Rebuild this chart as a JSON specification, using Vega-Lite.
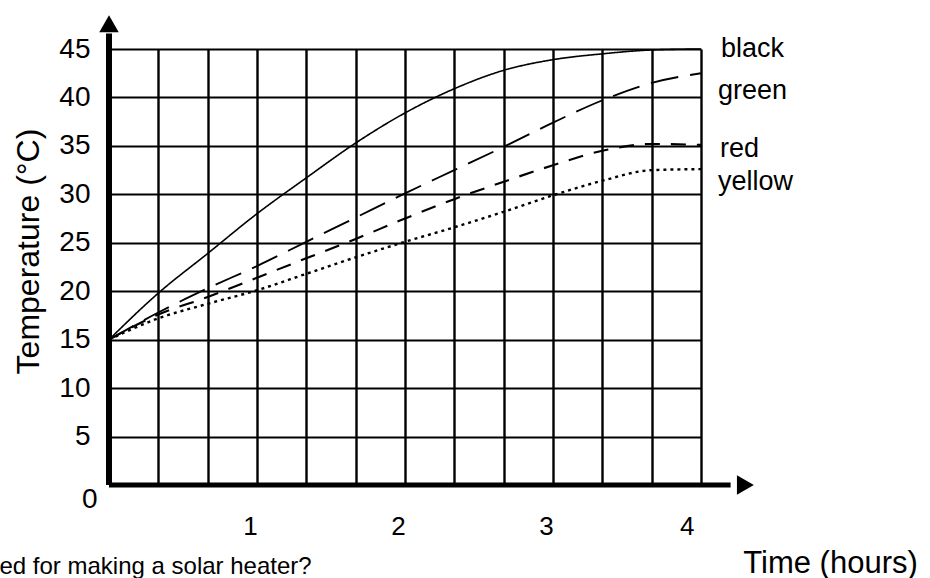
{
  "$schema": "https://vega.github.io/schema/vega-lite/v6.json",
  "width": 592,
  "height": 436,
  "autosize": {"type": "none"},
  "padding": {"left": 109, "top": 49, "right": 229, "bottom": 93},
  "background": "white",
  "config": {
    "view": {"stroke": null},
    "font": "Liberation Sans",
    "text": {"font": "Liberation Sans"}
  },
  "datasets": {
    "curves": [
      {"t": 0, "temp": 15, "series": "black"},
      {"t": 0.333, "temp": 19.8, "series": "black"},
      {"t": 0.667, "temp": 23.9, "series": "black"},
      {"t": 1, "temp": 28, "series": "black"},
      {"t": 1.333, "temp": 31.7, "series": "black"},
      {"t": 1.667, "temp": 35.3, "series": "black"},
      {"t": 2, "temp": 38.4, "series": "black"},
      {"t": 2.333, "temp": 40.9, "series": "black"},
      {"t": 2.667, "temp": 42.8, "series": "black"},
      {"t": 3, "temp": 43.9, "series": "black"},
      {"t": 3.333, "temp": 44.5, "series": "black"},
      {"t": 3.667, "temp": 44.9, "series": "black"},
      {"t": 4, "temp": 45, "series": "black"},
      {"t": 0, "temp": 15, "series": "green"},
      {"t": 0.333, "temp": 17.8, "series": "green"},
      {"t": 0.667, "temp": 20.3, "series": "green"},
      {"t": 1, "temp": 22.6, "series": "green"},
      {"t": 1.333, "temp": 25.1, "series": "green"},
      {"t": 1.667, "temp": 27.6, "series": "green"},
      {"t": 2, "temp": 30.1, "series": "green"},
      {"t": 2.333, "temp": 32.5, "series": "green"},
      {"t": 2.667, "temp": 34.9, "series": "green"},
      {"t": 3, "temp": 37.4, "series": "green"},
      {"t": 3.333, "temp": 39.7, "series": "green"},
      {"t": 3.667, "temp": 41.5, "series": "green"},
      {"t": 4, "temp": 42.5, "series": "green"},
      {"t": 0, "temp": 15, "series": "red"},
      {"t": 0.333, "temp": 17.6, "series": "red"},
      {"t": 0.667, "temp": 19.4, "series": "red"},
      {"t": 1, "temp": 21.4, "series": "red"},
      {"t": 1.333, "temp": 23.4, "series": "red"},
      {"t": 1.667, "temp": 25.4, "series": "red"},
      {"t": 2, "temp": 27.5, "series": "red"},
      {"t": 2.333, "temp": 29.5, "series": "red"},
      {"t": 2.667, "temp": 31.3, "series": "red"},
      {"t": 3, "temp": 33.0, "series": "red"},
      {"t": 3.333, "temp": 34.5, "series": "red"},
      {"t": 3.667, "temp": 35.2, "series": "red"},
      {"t": 4, "temp": 35.1, "series": "red"},
      {"t": 0, "temp": 15, "series": "yellow"},
      {"t": 0.333, "temp": 17.2, "series": "yellow"},
      {"t": 0.667, "temp": 18.7, "series": "yellow"},
      {"t": 1, "temp": 20.1, "series": "yellow"},
      {"t": 1.333, "temp": 21.8, "series": "yellow"},
      {"t": 1.667, "temp": 23.5, "series": "yellow"},
      {"t": 2, "temp": 25.1, "series": "yellow"},
      {"t": 2.333, "temp": 26.6, "series": "yellow"},
      {"t": 2.667, "temp": 28.2, "series": "yellow"},
      {"t": 3, "temp": 29.9, "series": "yellow"},
      {"t": 3.333, "temp": 31.4, "series": "yellow"},
      {"t": 3.667, "temp": 32.5, "series": "yellow"},
      {"t": 4, "temp": 32.6, "series": "yellow"}
    ]
  },
  "data": {"name": "curves"},
  "layer": [
    {
      "mark": {"type": "line", "interpolate": "monotone", "color": "black", "strokeCap": "butt"},
      "encoding": {
        "x": {
          "field": "t", "type": "quantitative",
          "scale": {"domain": [0, 4], "nice": false, "zero": false},
          "axis": {
            "values": [0.3333, 0.6667, 1, 1.3333, 1.6667, 2, 2.3333, 2.6667, 3, 3.3333, 3.6667, 4],
            "labelExpr": "abs(datum.value - round(datum.value)) < 0.01 ? toString(round(datum.value)) : ''",
            "grid": true, "gridColor": "black", "gridWidth": 2.4, "gridOpacity": 1,
            "domain": false, "ticks": false, "tickSize": 0,
            "labelFontSize": 26, "labelColor": "black", "labelPadding": 28, "labelOffset": -7,
            "labelFont": "Liberation Sans",
            "title": "Time (hours)", "titleFontSize": 31, "titleFontWeight": "normal", "titleColor": "black",
            "titleFont": "Liberation Sans",
            "titleX": 721, "titleY": 87, "titleAlign": "center", "titleBaseline": "alphabetic"
          }
        },
        "y": {
          "field": "temp", "type": "quantitative",
          "scale": {"domain": [0, 45], "nice": false},
          "axis": {
            "values": [0, 5, 10, 15, 20, 25, 30, 35, 40, 45],
            "grid": true, "gridColor": "black", "gridWidth": 1.8, "gridOpacity": 1,
            "domain": false, "ticks": false, "tickSize": 0,
            "labelFontSize": 28, "labelColor": "black",
            "labelFont": "Liberation Sans",
            "labelPadding": {"condition": {"test": "datum.value == 0", "value": 12}, "value": 19},
            "labelBaseline": {"condition": {"test": "datum.value == 0", "value": "top"}, "value": "middle"},
            "title": "Temperature (°C)", "titleFontSize": 32, "titleFontWeight": "normal", "titleColor": "black",
            "titleFont": "Liberation Sans",
            "titleX": -71, "titleY": 202, "titleAngle": -90, "titleAlign": "center", "titleBaseline": "alphabetic"
          }
        },
        "detail": {"field": "series", "type": "nominal"},
        "strokeDash": {
          "field": "series", "type": "nominal",
          "scale": {"domain": ["black", "green", "red", "yellow"], "range": [[1, 0], [28, 12], [15, 11], [3, 4]]},
          "legend": null
        },
        "strokeWidth": {
          "field": "series", "type": "nominal",
          "scale": {"domain": ["black", "green", "red", "yellow"], "range": [1.6, 2.4, 2.2, 2.8]},
          "legend": null
        }
      }
    },
    {
      "data": {"values": [{}]},
      "mark": {"type": "rule", "color": "black", "strokeWidth": 6, "strokeCap": "butt"},
      "encoding": {
        "x": {"datum": 0, "type": "quantitative"},
        "y": {"datum": 0, "type": "quantitative"},
        "y2": {"datum": 46.6}
      }
    },
    {
      "data": {"values": [{}]},
      "mark": {"type": "rule", "color": "black", "strokeWidth": 5, "strokeCap": "butt"},
      "encoding": {
        "x": {"datum": 0, "type": "quantitative"},
        "x2": {"datum": 4.2},
        "y": {"datum": 0, "type": "quantitative"}
      }
    },
    {
      "data": {"values": [{}]},
      "mark": {"type": "point", "shape": "triangle-up", "filled": true, "color": "black", "size": 380, "opacity": 1},
      "encoding": {
        "x": {"datum": 0, "type": "quantitative"},
        "y": {"datum": 47.6, "type": "quantitative"}
      }
    },
    {
      "data": {"values": [{}]},
      "mark": {"type": "point", "shape": "triangle-right", "filled": true, "color": "black", "size": 380, "opacity": 1},
      "encoding": {
        "x": {"datum": 4.3, "type": "quantitative"},
        "y": {"datum": 0, "type": "quantitative"}
      }
    },
    {
      "transform": [{"filter": "datum.t == 4 && (datum.series == 'black')"}],
      "mark": {"type": "text", "align": "left", "baseline": "middle", "dx": 20, "dy": 0, "fontSize": 27, "color": "black", "font": "Liberation Sans"},
      "encoding": {
        "x": {"field": "t", "type": "quantitative"},
        "y": {"field": "temp", "type": "quantitative"},
        "text": {"field": "series", "type": "nominal"}
      }
    },
    {
      "transform": [{"filter": "datum.t == 4 && datum.series == 'green'"}],
      "mark": {"type": "text", "align": "left", "baseline": "middle", "dx": 17, "dy": 18, "fontSize": 27, "color": "black", "font": "Liberation Sans"},
      "encoding": {
        "x": {"field": "t", "type": "quantitative"},
        "y": {"field": "temp", "type": "quantitative"},
        "text": {"field": "series", "type": "nominal"}
      }
    },
    {
      "transform": [{"filter": "datum.t == 4 && datum.series == 'red'"}],
      "mark": {"type": "text", "align": "left", "baseline": "middle", "dx": 19, "dy": 4, "fontSize": 27, "color": "black", "font": "Liberation Sans"},
      "encoding": {
        "x": {"field": "t", "type": "quantitative"},
        "y": {"field": "temp", "type": "quantitative"},
        "text": {"field": "series", "type": "nominal"}
      }
    },
    {
      "transform": [{"filter": "datum.t == 4 && datum.series == 'yellow'"}],
      "mark": {"type": "text", "align": "left", "baseline": "middle", "dx": 17, "dy": 13, "fontSize": 27, "color": "black", "font": "Liberation Sans"},
      "encoding": {
        "x": {"field": "t", "type": "quantitative"},
        "y": {"field": "temp", "type": "quantitative"},
        "text": {"field": "series", "type": "nominal"}
      }
    },
    {
      "data": {"values": [{}]},
      "mark": {"type": "text", "align": "left", "baseline": "alphabetic", "fontSize": 24, "color": "black", "font": "Liberation Sans", "text": "ed for making a solar heater?"},
      "encoding": {
        "x": {"datum": -0.74, "type": "quantitative"},
        "y": {"datum": -9.15, "type": "quantitative"}
      }
    }
  ]
}
